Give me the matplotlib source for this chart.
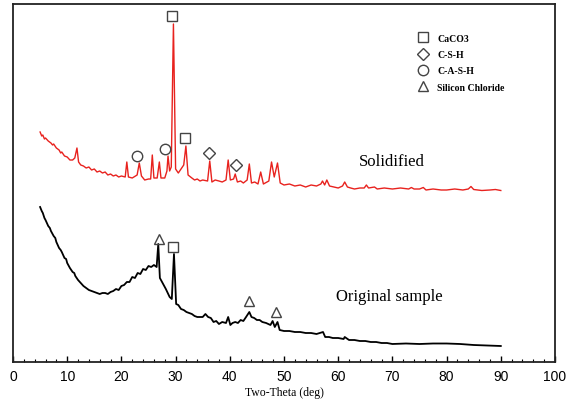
import matplotlib
matplotlib.use("Agg")
import matplotlib.pyplot as plt
from matplotlib.lines import Line2D
from matplotlib.ticker import MultipleLocator

plt.rcParams["font.family"] = ["Liberation Sans", "DejaVu Sans"]

# ---- data (2-theta in deg, intensity in arbitrary units) ----
solid_x = [5.0, 5.3, 5.5, 5.8, 6.0, 6.5, 7.0, 7.3, 7.5, 8.0, 8.5, 8.8, 9.0, 9.5, 10.0, 10.5, 11.0, 11.4, 11.8, 12.1,
           12.5, 13.0, 13.5, 14.0, 14.5, 15.0, 15.5, 16.0, 16.5, 17.0, 17.5, 18.0, 18.5, 19.0, 19.5, 20.0, 20.7, 21.0, 21.3, 22.0, 22.9,
           23.3, 23.7, 24.3, 25.0, 25.4, 25.7, 26.0, 26.6, 27.0, 27.3, 28.0, 28.4, 28.6, 28.9,
           29.2, 29.6, 30.0, 30.5, 31.0, 31.5, 31.9, 32.3, 33.0, 33.5, 34.0, 34.5, 35.0, 35.9, 36.3, 36.7,
           37.3, 38.0, 38.6, 39.3, 39.7, 40.1, 40.7, 41.0, 41.4, 42.0, 42.5, 43.2, 43.6, 44.0, 44.6, 45.2, 45.7, 46.2,
           47.2, 47.7, 48.2, 48.8, 49.3, 50.0, 51.0, 52.0, 53.0, 54.0, 55.0, 56.0, 56.8, 57.1, 57.5, 57.9, 58.4,
           59.2, 60.0, 60.8, 61.2, 61.7, 62.3, 63.0, 64.0, 64.8, 65.2, 65.6, 66.7, 67.2, 68.5, 70.0, 71.5, 73.0, 73.5, 74.0,
           75.0, 75.7, 76.2, 77.5, 79.0, 80.0, 81.5, 83.0, 84.0, 84.5, 85.0, 86.5, 88.0, 89.0, 90.0]
solid_y = [230, 226, 227, 223, 224, 221, 219, 217, 218, 214, 212, 209, 210, 206, 205, 202, 202, 204, 214, 200,
           197, 196, 194, 195, 192, 193, 190, 191, 189, 190, 187, 188, 186, 187, 185, 186, 185, 200, 185, 184, 187,
           199, 186, 182, 183, 183, 207, 184, 184, 200, 184, 184, 191, 206, 191,
           195, 338, 193, 189, 193, 197, 216, 187, 184, 182, 183, 181, 182, 181, 201, 180,
           182, 181, 180, 182, 202, 182, 183, 188, 180, 181, 179, 182, 198, 179, 180, 178, 190, 178,
           181, 200, 185, 199, 179, 177, 178, 176, 177, 175, 177, 176, 178, 181, 177, 182, 176,
           175, 174, 176, 180, 175, 174, 173, 174, 174, 177, 174, 175, 173, 174, 173, 174, 173, 174.5, 173,
           173, 174.5, 172, 173, 172, 172, 173, 172, 173, 175.5, 172.5, 171.5, 172, 172.5, 171.5]

orig_x = [5.0, 5.3, 5.5, 5.8, 6.0, 6.5, 6.8, 7.0, 7.5, 7.8, 8.0, 8.5, 8.8, 9.0, 9.5, 9.8, 10.0, 10.5, 11.0, 11.3, 11.5, 12.0, 12.5,
          13.0, 13.5, 14.0, 14.5, 15.0, 15.5, 16.0, 16.5, 17.0, 17.5, 18.0, 18.5, 19.0, 19.5, 20.0, 20.5, 21.0, 21.5, 22.0, 22.5, 23.0, 23.5, 24.0, 24.5, 25.0,
          25.5, 26.0, 26.5, 26.8, 27.1, 27.6, 28.2, 28.9, 29.3, 29.7, 30.1, 30.5, 31.0, 31.5, 32.0, 32.5, 33.0, 33.5, 34.0,
          35.0, 35.5, 36.0, 36.5, 37.0, 37.5, 38.0, 38.6, 39.3, 39.7, 40.1, 40.5, 41.0, 41.5, 42.0, 42.5, 43.0, 43.6, 44.0, 44.5, 45.0,
          45.5, 46.0, 46.7, 47.5, 47.9, 48.3, 48.8, 49.2, 50.0, 51.0, 52.0, 53.0, 54.0, 55.0, 56.0, 57.2, 57.6, 58.3, 59.0, 60.0, 61.0,
          61.2, 62.0, 63.0, 64.0, 65.0, 66.0, 67.0, 68.0, 69.0, 70.0, 72.5, 75.0, 77.5, 80.0, 82.5, 85.0, 87.5, 90.0]
orig_y = [155, 151, 149, 144, 142, 136, 134, 131, 126, 124, 120, 114, 112, 110, 104, 103, 99, 94, 90, 89, 86, 82, 79,
          76, 74, 72, 71, 70, 69, 68, 69, 69, 68, 70, 71, 73, 72, 76, 77, 80, 80, 85, 84, 89, 88, 93, 92, 96,
          95, 97, 95, 118, 84, 79, 73, 65, 63, 108, 58, 57, 53, 52, 50, 49, 48, 46, 45,
          45, 48, 45, 44, 40, 41, 38, 40, 39, 45, 37, 39, 40, 39, 42, 41, 45, 50, 45, 44, 42,
          42, 40, 39, 37, 41, 35, 40, 32, 31, 31, 30, 30, 29, 29, 28, 30, 25, 25, 24, 24, 23,
          25, 22, 22, 21, 21, 20, 20, 19, 19, 18, 18.5, 18, 18.5, 18.5, 18, 17, 16.5, 16]

# phase marker positions (2-theta, intensity)
caco3_x = [29.4, 31.7, 29.6]
caco3_y = [346, 224, 115]
csh_x = [36.1, 41.1]
csh_y = [209, 197]
cash_x = [22.8, 28.05]
cash_y = [206, 213]
sicl_x = [26.85, 43.5, 48.5]
sicl_y = [123, 61, 50]

legend_labels = ["CaCO3", "C-S-H", "C-A-S-H", "Silicon Chloride"]
tick_vals = list(range(0, 101, 10))

# ---- figure ----
fig = plt.figure(figsize=(5.77, 4.02), dpi=100)
ax = fig.add_axes([13 / 577, 1 - 363 / 402, (555 - 13) / 577, (363 - 5) / 402])

ax.plot(solid_x, solid_y, color="#e8221e", lw=1.0)
ax.plot(orig_x, orig_y, color="black", lw=1.3)

mk = dict(linestyle="none", markerfacecolor="none", markeredgecolor="#444444",
          markeredgewidth=1.0, markersize=7.5)
ax.plot(caco3_x, caco3_y, marker="s", **mk)
ax.plot(csh_x, csh_y, marker="D", **dict(mk, markersize=6.2))
ax.plot(cash_x, cash_y, marker="o", **mk)
ax.plot(sicl_x, sicl_y, marker="^", **mk)

serif = ["Liberation Serif", "DejaVu Serif"]
ax.text(69.8, 201, "Solidified", fontsize=12, family=serif, ha="center", va="center")
ax.text(69.4, 66, "Original sample", fontsize=12, family=serif, ha="center", va="center")

handles = [
    Line2D([], [], marker="s", **mk),
    Line2D([], [], marker="D", **dict(mk, markersize=6.2)),
    Line2D([], [], marker="o", **mk),
    Line2D([], [], marker="^", **mk),
]
leg = ax.legend(handles, legend_labels, loc="upper left",
                bbox_to_anchor=(410 / 577, 1 - 28 / 402), bbox_transform=fig.transFigure,
                frameon=False, prop=dict(family=serif, weight="bold", size=7),
                labelspacing=0.75, handletextpad=0.9, handlelength=1.2, borderpad=0.2)

ax.set_xlim(0, 100)
ax.set_ylim(0, 358)
ax.set_xticks(tick_vals)
ax.set_xticklabels([str(v) for v in tick_vals], fontfamily=["Liberation Sans", "DejaVu Sans"])
ax.xaxis.set_minor_locator(MultipleLocator(2))
ax.set_yticks([])
ax.tick_params(axis="x", which="major", direction="in", length=4.5, width=1.0, pad=5,
               labelsize=10, top=False)
ax.tick_params(axis="x", which="minor", direction="in", length=2.2, width=0.8, top=False)
for s in ax.spines.values():
    s.set_linewidth(1.3)
    s.set_color("#222222")

ax.set_xlabel("Two-Theta (deg)", fontsize=8.5, family=serif, labelpad=2)

fig.savefig("out.png", dpi=100)
